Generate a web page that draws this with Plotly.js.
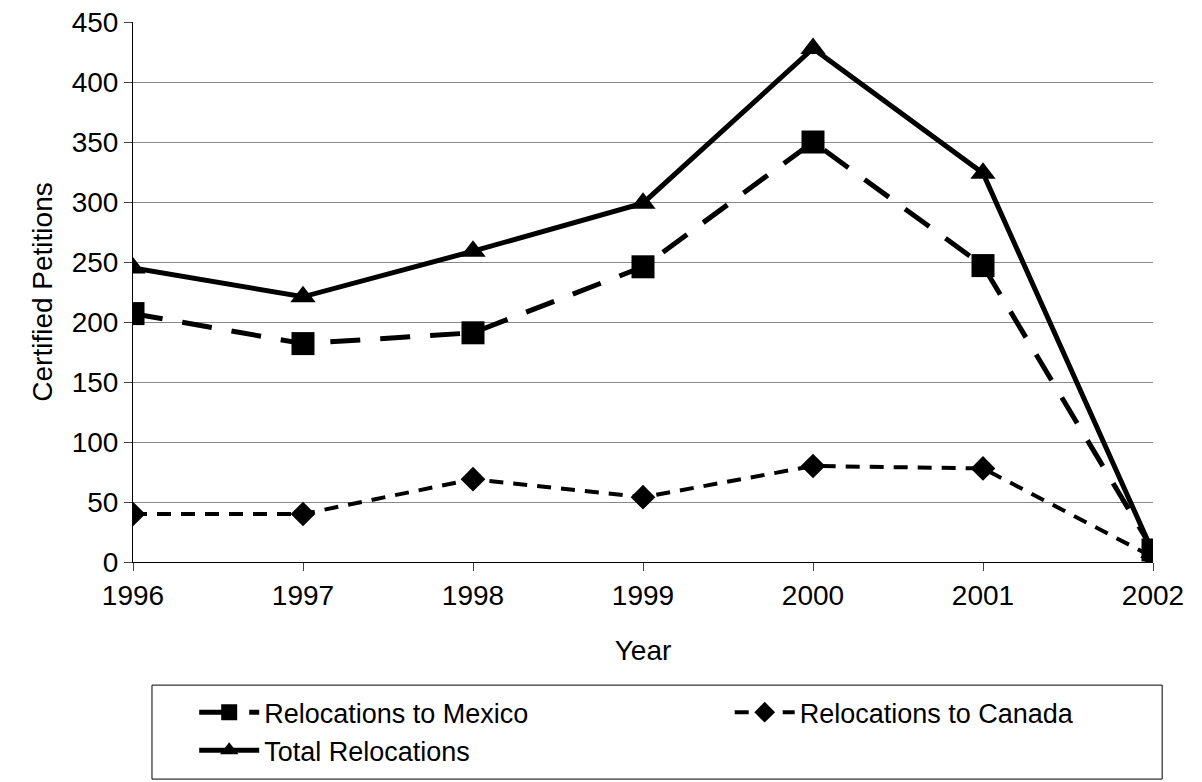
<html><head><script src="https://cdn.plot.ly/plotly-3.0.1.min.js"></script></head><body style="margin:0">
<div id="c" style="width:1202px;height:782px"></div>
<script>
const years=['1996','1997','1998','1999','2000','2001','2002'];
const mexico=[207,182,191,246,350,247,10];
const canada=[40,40,69,54,80,78,4];
const total=[245,221,259,299,428,324,8];
const traces=[
{x:years,y:mexico,name:'Relocations to Mexico',legend:'legend',mode:'lines+markers',line:{color:'#000',width:5,dash:'30px,20px'},marker:{symbol:'square',size:23,color:'#000'}},
{x:years,y:canada,name:'Relocations to Canada',legend:'legend2',mode:'lines+markers',line:{color:'#000',width:4,dash:'14px,10px'},marker:{symbol:'diamond',size:19,color:'#000'}},
{x:years,y:total,name:'Total Relocations',legend:'legend',mode:'lines+markers',line:{color:'#000',width:5},marker:{symbol:'triangle-up',size:22,color:'#000'}}
];
const lf={size:27};
Plotly.newPlot('c',traces,{
width:1202,height:782,margin:{l:133,r:49,t:22,b:220,autoexpand:false},
paper_bgcolor:'#fff',plot_bgcolor:'#fff',
font:{family:'Liberation Sans, Arial',size:28,color:'#000'},
xaxis:{type:'category',range:[0,6],automargin:false,showline:true,linecolor:'#000',linewidth:1,ticks:'outside',ticklen:8,showgrid:false,tickfont:{size:28},title:{text:'Year',standoff:30,font:{size:28}},zeroline:false},
yaxis:{range:[0,450],dtick:50,automargin:false,showline:true,linecolor:'#000',ticks:'outside',ticklen:8,gridcolor:'#888',gridwidth:1,tickfont:{size:28},title:{text:'Certified Petitions',standoff:10,font:{size:28}},zeroline:false},
showlegend:true,
legend:{x:0.06,xanchor:'left',yref:'container',y:0.12,yanchor:'top',font:lf,tracegroupgap:0,itemwidth:60,bgcolor:'rgba(0,0,0,0)'},
legend2:{x:0.585,xanchor:'left',yref:'container',y:0.12,yanchor:'top',font:lf,itemwidth:60,bgcolor:'rgba(0,0,0,0)'},
shapes:[{type:'rect',xref:'paper',yref:'paper',x0:0.0186,x1:1.009,y0:-0.228,y1:-0.402,line:{color:'#000',width:1}}]
},{staticPlot:true});
</script></body></html>
